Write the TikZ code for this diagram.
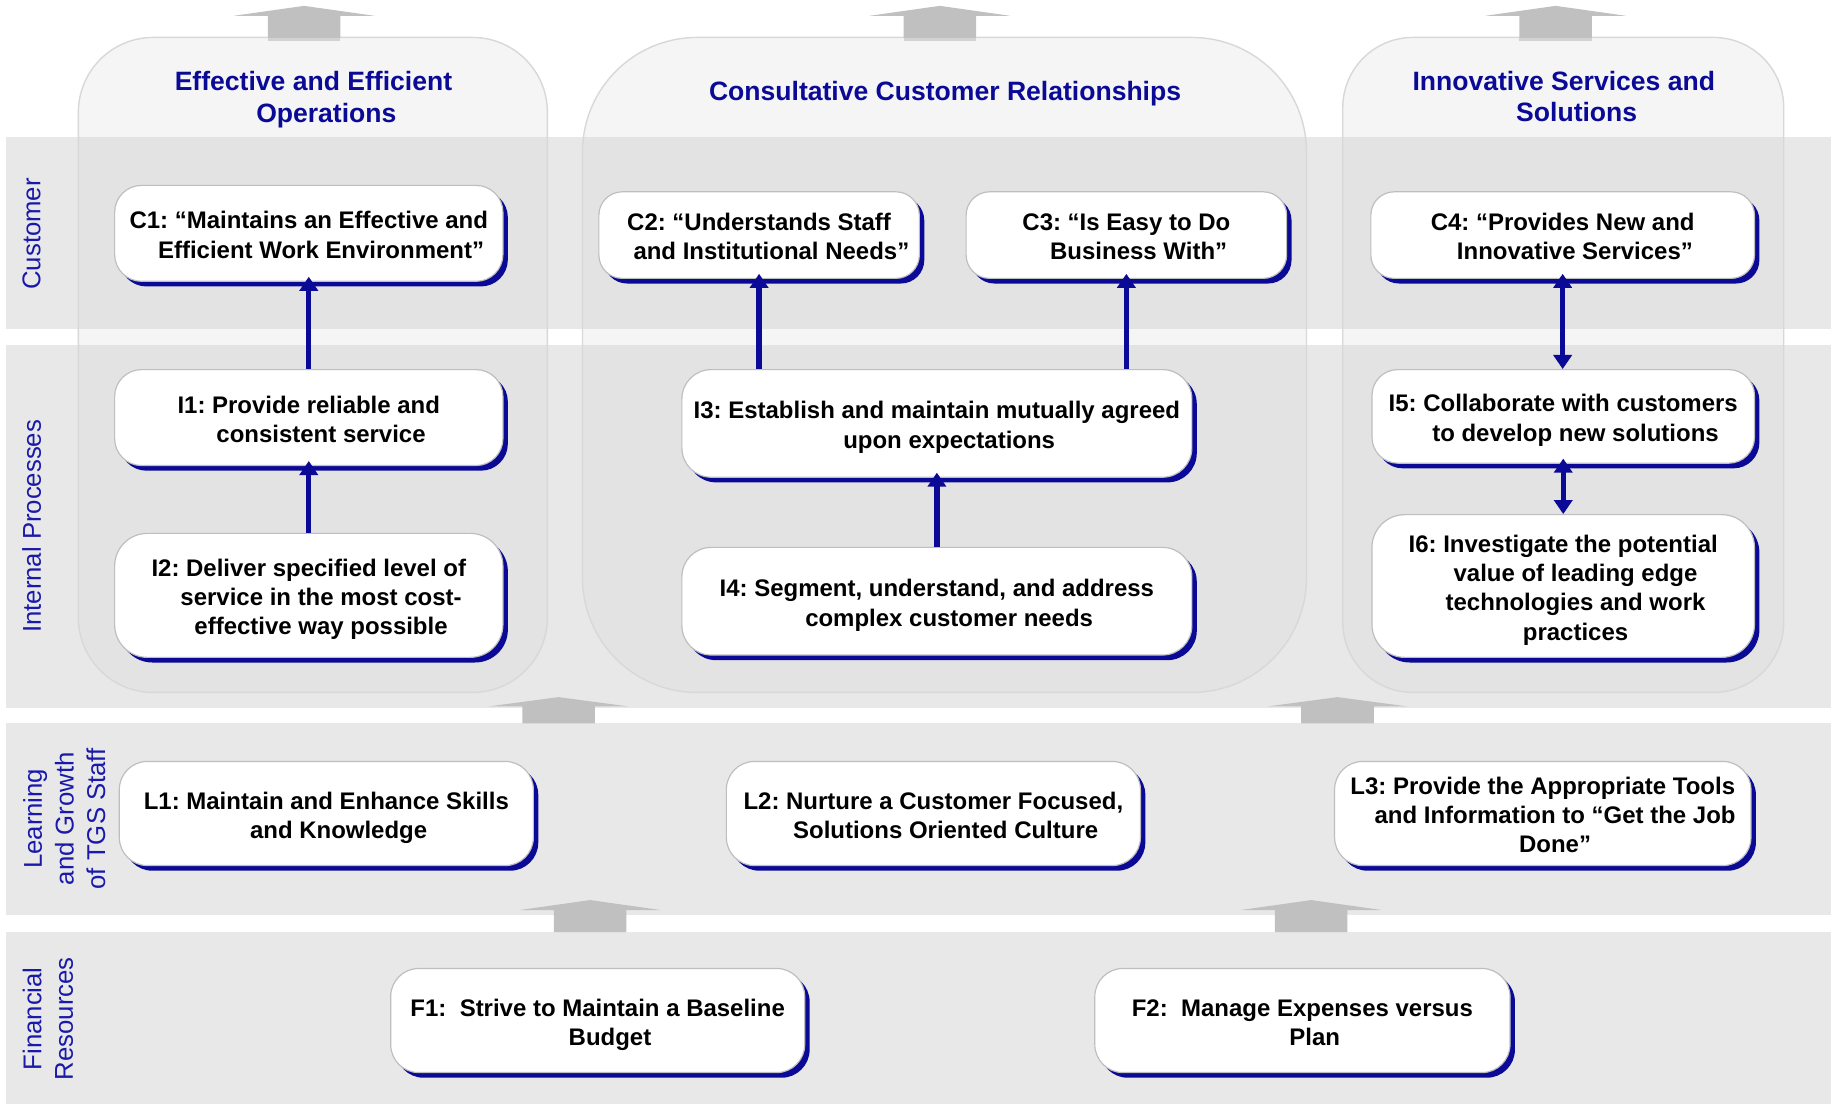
\documentclass[tikz,border=0pt]{standalone}
\usepackage{fontspec}
\setmainfont{Liberation Sans}
\usetikzlibrary{arrows.meta,shadows}
\definecolor{navy}{RGB}{10,10,150}
\definecolor{lbl}{RGB}{25,25,170}
\definecolor{band}{RGB}{232,232,232}
\definecolor{colfill}{RGB}{209,209,209}
\definecolor{colline}{RGB}{216,216,216}
\definecolor{garrow}{RGB}{192,192,192}
\definecolor{gstrip}{RGB}{210,210,210}
\definecolor{boxline}{RGB}{190,190,190}
\newcommand\garr[4]{\fill[garrow] (#1,#2) -- (#1+60,#3) -- (#1+31,#3) -- (#1+31,#4) -- (#1-31,#4) -- (#1-31,#3) -- (#1-60,#3) -- cycle;}
\newcommand\nl{\\\hspace*{10.5pt}}
\newcommand\bst{\rule{0pt}{11.2pt}}
\newcommand\est{\rule[-2.5pt]{0pt}{2.5pt}}
\frenchspacing
\begin{document}
\begin{tikzpicture}[x=0.5pt,y=-0.5pt,
  box/.style={draw=boxline, line width=0.5pt, fill=white, inner sep=0pt, align=center,
    font=\fontsize{10.25}{12.5}\selectfont\bfseries\frenchspacing, text=black,
    drop shadow={shadow xshift=2.1pt, shadow yshift=-2.2pt, fill=navy, opacity=1}},
  ttl/.style={align=center, inner sep=0pt, text=navy, font=\fontsize{11.35}{13.5}\selectfont\bfseries},
  side/.style={rotate=90, align=center, inner sep=0pt, text=lbl, font=\fontsize{11}{13.5}\selectfont},
  column/.style={fill=colfill, fill opacity=0.2, draw=colline, line width=0.6pt},
  narrow/.style={draw=navy, line width=2.25pt, -{Triangle[length=6pt,width=7.75pt]}, shorten >=-2.2pt},
  darrow/.style={draw=navy, line width=2.25pt, {Triangle[length=6pt,width=7.75pt]}-{Triangle[length=6pt,width=7.75pt]}, shorten >=-2.2pt}]
\useasboundingbox (0,0) rectangle (1568,944);
\fill[white] (0,0) rectangle (1568,944);
% bands
\fill[band] (5,117) rectangle (1565,281);
\fill[band] (5,295) rectangle (1565,605.5);
\fill[band] (5,618.5) rectangle (1565,782);
\fill[band] (5,797) rectangle (1565,944);
% columns
\draw[column, rounded corners=32pt] (67,32) rectangle (468,592);
\draw[column, rounded corners=49pt] (498,32) rectangle (1117,592);
\draw[column, rounded corners=30pt] (1148,32) rectangle (1525,592);
% gray block arrows
\garr{260}{5}{13.5}{32.5}
\garr{803.5}{5}{13.5}{32.5}
\garr{1330}{5}{13.5}{32.5}
\fill[gstrip] (229,32.5) rectangle (291,35);
\fill[gstrip] (772.5,32.5) rectangle (834.5,35);
\fill[gstrip] (1299,32.5) rectangle (1361,35);
\garr{477.5}{596}{604}{618.5}
\garr{1143.5}{596}{604}{618.5}
\garr{504.5}{769.5}{778}{797}
\garr{1121}{769.5}{778}{797}
% titles
\node[ttl] (t1) at (268,85) {Effective and Efficient\\\hspace*{11pt}Operations};
\node[ttl] (t2) at (808,80) {Consultative Customer Relationships};
\node[ttl] (t3) at (1337,82.5) {Innovative Services and\\\hspace*{11pt}Solutions};
% side labels
\node[side] (sc) at (27,200) {Customer};
\node[side] (si) at (27,450) {Internal Processes};
\node[side] (sl) at (55,700) {Learning\\and Growth\\of TGS Staff};
\node[side] (sf) at (41,871) {Financial\\Resources};
% boxes
\node[box, minimum width=166pt, minimum height=41pt, rounded corners=11.5pt] (C1) at (264,199.5) {\bst C1: “Maintains an Effective and\nl Efficient Work Environment”\est};
\node[box, minimum width=137pt, minimum height=37pt, rounded corners=10pt] (C2) at (649,201) {\bst C2: “Understands Staff\nl and Institutional Needs”\est};
\node[box, minimum width=137pt, minimum height=37pt, rounded corners=10pt] (C3) at (963,201) {\bst C3: “Is Easy to Do\nl Business With”\est};
\node[box, minimum width=164pt, minimum height=37pt, rounded corners=10pt] (C4) at (1336,201) {\bst C4: “Provides New and\nl Innovative Services”\est};
\node[box, minimum width=166pt, minimum height=41pt, rounded corners=11.5pt] (I1) at (264,357) {\bst I1: Provide reliable and\nl consistent service\est};
\node[box, minimum width=166pt, minimum height=53pt, rounded corners=14pt] (I2) at (264,509) {\bst I2: Deliver specified level of\nl service in the most cost-\nl effective way possible\est};
\node[box, minimum width=218pt, minimum height=46pt, rounded corners=12.5pt] (I3) at (801,362) {\bst I3: Establish and maintain mutually agreed\nl upon expectations\est};
\node[box, minimum width=218pt, minimum height=46pt, rounded corners=12.5pt] (I4) at (801,514) {\bst I4: Segment, understand, and address\nl complex customer needs\est};
\node[box, minimum width=163.5pt, minimum height=40pt, rounded corners=11pt] (I5) at (1336.5,356) {\bst I5: Collaborate with customers\nl to develop new solutions\est};
\node[box, minimum width=163.5pt, minimum height=61pt, rounded corners=14pt] (I6) at (1336.5,501) {\bst I6: Investigate the potential\nl value of leading edge\nl technologies and work\nl practices\est};
\node[box, minimum width=177pt, minimum height=44.5pt, rounded corners=12pt] (L1) at (279,695.5) {\bst L1: Maintain and Enhance Skills\nl and Knowledge\est};
\node[box, minimum width=177pt, minimum height=44.5pt, rounded corners=12pt] (L2) at (798,695.5) {\bst L2: Nurture a Customer Focused,\nl Solutions Oriented Culture\est};
\node[box, minimum width=178pt, minimum height=44.5pt, rounded corners=12pt] (L3) at (1319,695.5) {\bst L3: Provide the Appropriate Tools\nl and Information to “Get the Job\nl Done”\est};
\node[box, minimum width=177pt, minimum height=44.5pt, rounded corners=12pt] (F1) at (511,872.5) {\bst F1:\ \ Strive to Maintain a Baseline\nl Budget\est};
\node[box, minimum width=177.5pt, minimum height=44.5pt, rounded corners=12pt] (F2) at (1113.5,872.5) {\bst F2:\ \ Manage Expenses versus\nl Plan\est};
% connectors
\draw[narrow] (I1.north) -- (C1.south);
\draw[narrow] (I2.north) -- (I1.south);
\draw[narrow] (C2.south |- I3.north) -- (C2.south);
\draw[narrow] (C3.south |- I3.north) -- (C3.south);
\draw[narrow] (I4.north) -- (I3.south);
\draw[darrow] (C4.south |- I5.north) -- (C4.south);
\draw[darrow] (I5.south |- I6.north) -- (I5.south);
\end{tikzpicture}
\end{document}
